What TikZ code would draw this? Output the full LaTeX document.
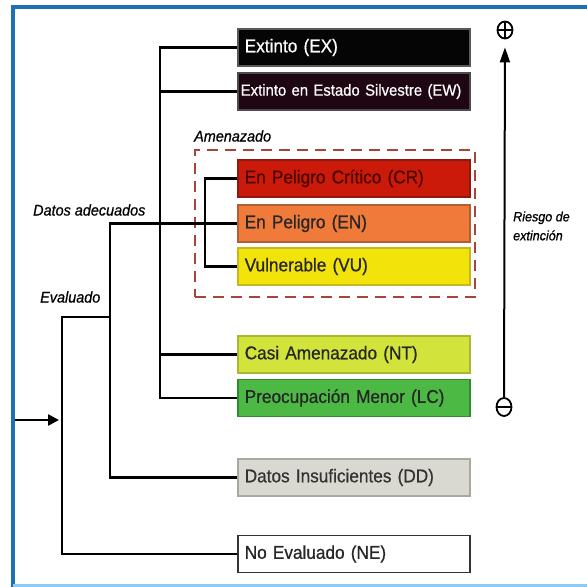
\documentclass[tikz,border=0pt]{standalone}
\usepackage{fontspec}
\setmainfont{Liberation Sans}[FakeStretch=0.93,FakeBold=0.7]
\usetikzlibrary{shapes.geometric,arrows.meta}
\definecolor{frameblue}{HTML}{1F6FB5}
\definecolor{framelight}{HTML}{8FCBF0}
\definecolor{cEX}{HTML}{050505}
\definecolor{cEW}{HTML}{1E0612}
\definecolor{cCR}{HTML}{CC1A0A}
\definecolor{bCR}{HTML}{8A1A10}
\definecolor{tCR}{HTML}{4A0500}
\definecolor{cEN}{HTML}{EF7A3A}
\definecolor{bEN}{HTML}{B06030}
\definecolor{cVU}{HTML}{F2E40A}
\definecolor{bVU}{HTML}{C8B820}
\definecolor{cNT}{HTML}{D2E43C}
\definecolor{bNT}{HTML}{A8B830}
\definecolor{cLC}{HTML}{4CB944}
\definecolor{bLC}{HTML}{2F8A2F}
\definecolor{cDD}{HTML}{D9D9D2}
\definecolor{bDD}{HTML}{A8A8A0}
\definecolor{dashred}{HTML}{A8453A}
\begin{document}
\begin{tikzpicture}[x=1pt,y=-1pt,
  catbox/.style={draw, line width=1.5pt, minimum width=232pt, minimum height=37pt,
    text width=218pt, align=left, inner xsep=7pt, anchor=west,
    font=\fontsize{18.5}{20}\selectfont},
  conn/.style={line width=2.5pt, black},
  lbl/.style={font=\fontsize{15.5}{18}\selectfont\itshape, inner sep=0pt}]
\useasboundingbox (0,0) rectangle (587,587);
\fill[white] (0,0) rectangle (587,587);
% frame
\draw[frameblue, line width=4pt] (13,587) -- (13,7) -- (587,7);
\draw[framelight, line width=3pt] (13,585) -- (587,585);

% category boxes
\node[catbox, fill=cEX, draw=gray!70!black, text=white] (ex) at (237,47.5) {Extinto (EX)};
\node[catbox, fill=cEW, draw=gray!60!black, text=white, text width=226pt, inner xsep=3pt,
  font=\fontsize{16}{18}\selectfont] (ew) at (237,91.5) {Extinto en Estado Silvestre (EW)};
\node[catbox, fill=cCR, draw=bCR, text=tCR] (cr) at (237,178.5) {En Peligro Crítico (CR)};
\node[catbox, fill=cEN, draw=bEN, text=black!85] (en) at (237,223.5) {En Peligro (EN)};
\node[catbox, fill=cVU, draw=bVU, text=black!85] (vu) at (237,266.5) {Vulnerable (VU)};
\node[catbox, fill=cNT, draw=bNT, text=black!85] (nt) at (237,354.5) {Casi Amenazado (NT)};
\node[catbox, fill=cLC, draw=bLC, text=black!85] (lc) at (237,398) {Preocupación Menor (LC)};
\node[catbox, fill=cDD, draw=bDD, text=black!80] (dd) at (237,477.5) {Datos Insuficientes (DD)};
\node[catbox, fill=white, draw=black!80, text=black!85] (ne) at (237,554) {No Evaluado (NE)};

% threatened group
\node[draw=dashred, line width=1.8pt, dash pattern=on 11pt off 7pt,
  minimum width=280pt, minimum height=147pt, inner sep=0pt] (amen) at (335,223.5) {};
\node[lbl, anchor=west] (amenlbl) at (194,136) {Amenazado};

% junction coordinates
\coordinate (j1) at (62,0);
\coordinate (j2) at (110,0);
\coordinate (j3) at (160,0);
\coordinate (j4) at (205,0);
\coordinate (e1) at (110,317);
\coordinate (in) at (15,420);

% connectors
\draw[conn] (ex.west) -- (ex.west -| j3) |- (lc.west);
\draw[conn] (ew.west) -- (ew.west -| j3);
\draw[conn] (nt.west) -- (nt.west -| j3);
\draw[conn] (cr.west) -- (cr.west -| j4) |- (vu.west);
\draw[conn] (en.west) -- (en.west -| j2) |- (dd.west);
\draw[conn] (e1) -- (e1 -| j1) |- (ne.west);
\draw[line width=2.5pt, -{Triangle[length=11pt,width=11pt]}, shorten >=3pt] (in) -- (in -| j1);

% labels
\node[lbl, anchor=west] (datos) at (33,210) {Datos adecuados};
\node[lbl, anchor=west] (eval) at (40,297) {Evaluado};

% risk axis
\node[draw, ellipse, line width=1.8pt, minimum width=15pt, minimum height=17pt, inner sep=0pt,
  path picture={\draw[line width=1.6pt] (path picture bounding box.north) -- (path picture bounding box.south)
    (path picture bounding box.west) -- (path picture bounding box.east);}] (plus) at (505,30) {};
\node[draw, ellipse, line width=1.8pt, minimum width=15pt, minimum height=18pt, inner sep=0pt,
  path picture={\draw[line width=1.6pt] (path picture bounding box.west) -- (path picture bounding box.east);}] (minus) at (504,407) {};
\draw[line width=2pt, -{Triangle[length=15pt,width=10pt]}, shorten >=8pt] (minus.north) -- (plus.south);
\node[font=\fontsize{13.5}{19}\selectfont\itshape, align=left, anchor=west, inner sep=0pt] (risk) at (513,226) {Riesgo de\\extinción};
\end{tikzpicture}
\end{document}
